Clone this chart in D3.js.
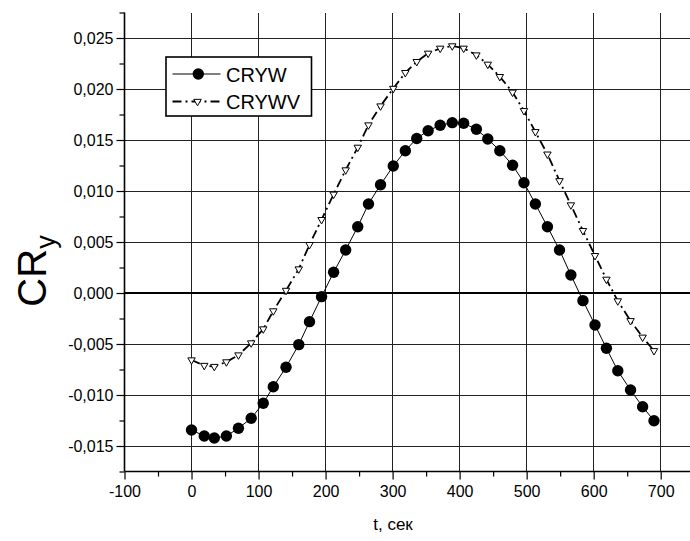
<!DOCTYPE html>
<html>
<head>
<meta charset="utf-8">
<script src="https://cdn.jsdelivr.net/npm/d3@7"></script>
<style>
  html, body { margin: 0; padding: 0; background: #fff; }
  svg { display: block; font-family: "Liberation Sans", Arial, sans-serif; }
</style>
</head>
<body>
<svg id="chart" width="690" height="541"></svg>
<script>
// ---- data ----
const times = [0, 19, 34, 52, 70, 89, 107, 122, 141, 160, 176, 194, 212, 230, 248, 264, 282, 301, 319, 336,
               353, 371, 389, 406, 425, 442, 460, 479, 496, 513, 531, 549, 566, 584, 602, 619, 636, 655, 673, 690];
const cryw = [-0.01343, -0.01402, -0.01422, -0.01402, -0.01326, -0.01228, -0.01081, -0.00919, -0.00728, -0.00506,
              -0.00281, -0.00036, 0.00203, 0.00422, 0.00650, 0.00873, 0.01062, 0.01245, 0.01395, 0.01515,
              0.01591, 0.01644, 0.01670, 0.01664, 0.01605, 0.01510, 0.01395, 0.01253, 0.01081, 0.00873,
              0.00650, 0.00422, 0.00176, -0.00075, -0.00314, -0.00542, -0.00762, -0.00951, -0.01115, -0.01252];
const crywv = [-0.00657, -0.00711, -0.00721, -0.00676, -0.00608, -0.00490, -0.00353, -0.00176, 0.00025, 0.00235,
               0.00474, 0.00719, 0.00968, 0.01206, 0.01428, 0.01647, 0.01833, 0.02005, 0.02160, 0.02268,
               0.02350, 0.02399, 0.02422, 0.02399, 0.02333, 0.02242, 0.02121, 0.01968, 0.01787, 0.01581,
               0.01361, 0.01100, 0.00863, 0.00611, 0.00366, 0.00134, -0.00078, -0.00272, -0.00434, -0.00566];
const xTicks = [-100, 0, 100, 200, 300, 400, 500, 600, 700];
const xMinorTicks = [-50, 50, 150, 250, 350, 450, 550, 650, 750];
const yTicks = [-0.015, -0.010, -0.005, 0.000, 0.005, 0.010, 0.015, 0.020, 0.025];
const yMinorTicks = [-0.0175, -0.0125, -0.0075, -0.0025, 0.0025, 0.0075, 0.0125, 0.0175, 0.0225, 0.0275];
const seriesNames = ["CRYW", "CRYWV"];
const xTitle = "t, сек";
const yTitle = "CR";
const yTitleSub = "y";

// ---- layout ----
const svg = d3.select("#chart");
const x = d3.scaleLinear().domain([-100, 700]).range([124.5, 660.7]);
const y = d3.scaleLinear().domain([-0.0175, 0.0275]).range([471.5, 12.5]);
const xLeft = x(-100), xRight = x(760);
const yBottom = y(-0.0175), yTop = y(0.0275);

const locale = d3.formatLocale({decimal: ",", thousands: " ", grouping: [3], currency: ["", ""], minus: "-"});
const fmtY = locale.format(".3f");
const fmtX = locale.format("d");

// grid
const grid = svg.append("g").attr("shape-rendering", "crispEdges");
grid.selectAll("line.vg").data(xTicks.filter(d => d > -100)).join("line")
  .attr("x1", d => x(d)).attr("x2", d => x(d))
  .attr("y1", yTop).attr("y2", yBottom)
  .attr("stroke", "#222").attr("stroke-width", 1);
grid.selectAll("line.hg").data(yTicks).join("line")
  .attr("x1", xLeft).attr("x2", xRight)
  .attr("y1", d => y(d)).attr("y2", d => y(d))
  .attr("stroke", d => d === 0 ? "#000" : "#222")
  .attr("stroke-width", d => d === 0 ? 2 : 1);

// axes
const xAxis = d3.axisBottom(x).tickValues(xTicks).tickFormat(fmtX).tickSize(8).tickPadding(6);
const xAxisMinor = d3.axisBottom(x).tickValues(xMinorTicks).tickFormat("").tickSize(5);
const yAxis = d3.axisLeft(y).tickValues(yTicks).tickFormat(fmtY).tickSize(8).tickPadding(3);
const yAxisMinor = d3.axisLeft(y).tickValues(yMinorTicks).tickFormat("").tickSize(5);

function styleAxis(g) {
  g.select(".domain").remove();
  g.selectAll("line").attr("stroke", "#000").attr("stroke-width", 1.2);
  g.selectAll("text").attr("fill", "#000").style("font-family", "\"Liberation Sans\", Arial, sans-serif").style("font-size", "16px");
}
svg.append("g").attr("transform", `translate(0,${yBottom})`).call(xAxis).call(styleAxis);
svg.append("g").attr("transform", `translate(0,${yBottom})`).call(xAxisMinor).call(styleAxis);
svg.append("g").attr("transform", `translate(${xLeft},0)`).call(yAxis).call(styleAxis);
svg.append("g").attr("transform", `translate(${xLeft},0)`).call(yAxisMinor).call(styleAxis);

// axis lines
svg.append("line").attr("x1", xLeft).attr("x2", xLeft).attr("y1", yTop).attr("y2", yBottom)
  .attr("stroke", "#000").attr("stroke-width", 1.6);
svg.append("line").attr("x1", xLeft).attr("x2", xRight).attr("y1", yBottom).attr("y2", yBottom)
  .attr("stroke", "#000").attr("stroke-width", 1.6);

// series
const dataA = times.map((t, i) => ({t, v: cryw[i]}));
const dataB = times.map((t, i) => ({t, v: crywv[i]}));
const line = d3.line().x(d => x(d.t)).y(d => y(d.v));
const dashPattern = "9,4,2,4";

svg.append("path").datum(dataB).attr("d", line)
  .attr("fill", "none").attr("stroke", "#000").attr("stroke-width", 1.8).attr("stroke-dasharray", dashPattern);
svg.append("path").datum(dataA).attr("d", line)
  .attr("fill", "none").attr("stroke", "#000").attr("stroke-width", 1);

const tri = d3.symbol().type(d3.symbolTriangle).size(24);
svg.append("g").selectAll("path").data(dataB).join("path")
  .attr("d", tri)
  .attr("transform", d => `translate(${x(d.t)},${y(d.v)}) rotate(180)`)
  .attr("fill", "#fff").attr("stroke", "#000").attr("stroke-width", 1);
svg.append("g").selectAll("circle").data(dataA).join("circle")
  .attr("cx", d => x(d.t)).attr("cy", d => y(d.v)).attr("r", 5.7)
  .attr("fill", "#000");

// legend
const lg = svg.append("g");
lg.append("rect").attr("x", 166).attr("y", 57).attr("width", 145.5).attr("height", 59)
  .attr("fill", "#fff").attr("stroke", "#000").attr("stroke-width", 1.6);
lg.append("line").attr("x1", 172.5).attr("x2", 220.5).attr("y1", 74).attr("y2", 74)
  .attr("stroke", "#000").attr("stroke-width", 1);
lg.append("circle").attr("cx", 198.3).attr("cy", 74).attr("r", 5.7).attr("fill", "#000");
lg.append("text").attr("x", 226).attr("y", 81.5).text(seriesNames[0])
  .style("font-size", "20px").attr("fill", "#000");
lg.append("line").attr("x1", 172.5).attr("x2", 222).attr("y1", 101.5).attr("y2", 101.5)
  .attr("stroke", "#000").attr("stroke-width", 1.8).attr("stroke-dasharray", dashPattern);
lg.append("path").attr("d", tri).attr("transform", "translate(197.5,101.5) rotate(180)")
  .attr("fill", "#fff").attr("stroke", "#000").attr("stroke-width", 1);
lg.append("text").attr("x", 226).attr("y", 108.5).text(seriesNames[1])
  .style("font-size", "20px").attr("fill", "#000");

// axis titles
svg.append("text").attr("x", 393).attr("y", 530).attr("text-anchor", "middle")
  .style("font-size", "17px").attr("fill", "#000").text(xTitle);

const yt = svg.append("text").attr("transform", "translate(46,271) rotate(-90)")
  .attr("text-anchor", "middle").style("font-size", "40px").attr("fill", "#000");
yt.append("tspan").text(yTitle);
yt.append("tspan").attr("dy", 9).style("font-size", "27px").text(yTitleSub);
</script>
</body>
</html>
